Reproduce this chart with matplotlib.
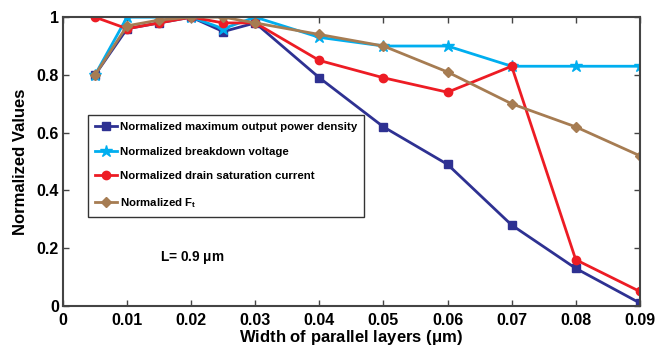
import matplotlib
matplotlib.use('Agg')
import matplotlib.pyplot as plt

plt.rcParams['font.family'] = ['Liberation Sans', 'DejaVu Sans']
plt.rcParams['mathtext.fontset'] = 'custom'
plt.rcParams['mathtext.rm'] = 'Liberation Sans:bold'
plt.rcParams['mathtext.it'] = 'Liberation Sans:bold'
plt.rcParams['mathtext.bf'] = 'Liberation Sans:bold'

# data
width = [0.005, 0.01, 0.015, 0.02, 0.025, 0.03, 0.04, 0.05, 0.06, 0.07, 0.08, 0.09]
power_density = [0.80, 0.96, 0.98, 1.00, 0.95, 0.98, 0.79, 0.62, 0.49, 0.28, 0.13, 0.01]
breakdown = [0.80, 1.00, 1.00, 1.00, 0.96, 1.00, 0.93, 0.90, 0.90, 0.83, 0.83, 0.83]
drain_current = [1.00, 0.96, 0.98, 1.00, 0.98, 0.98, 0.85, 0.79, 0.74, 0.83, 0.16, 0.05]
ft = [0.80, 0.97, 0.99, 1.00, 1.00, 0.98, 0.94, 0.90, 0.81, 0.70, 0.62, 0.52]

xticks = [0, 0.01, 0.02, 0.03, 0.04, 0.05, 0.06, 0.07, 0.08, 0.09]
xticklabels = ['0', '0.01', '0.02', '0.03', '0.04', '0.05', '0.06', '0.07', '0.08', '0.09']
yticks = [0, 0.2, 0.4, 0.6, 0.8, 1]
yticklabels = ['0', '0.2', '0.4', '0.6', '0.8', '1']

fig = plt.figure(figsize=(6.7, 3.5), dpi=100)
ax = fig.add_axes([0.094, 0.126, 0.861, 0.825])

ax.plot(width, power_density, '-s', color='#2E3192', lw=2, ms=6,
        label='Normalized maximum output power density')
ax.plot(width, breakdown, '-*', color='#00AEEF', lw=2, ms=9,
        label='Normalized breakdown voltage')
ax.plot(width, drain_current, '-o', color='#ED1C24', lw=2, ms=6,
        label='Normalized drain saturation current')
ax.plot(width, ft, '-D', color='#A67C52', lw=2, ms=5,
        label=r'Normalized F$_\mathregular{t}$')

ax.set_xlim(0, 0.09)
ax.set_ylim(0, 1)
ax.set_xticks(xticks)
ax.set_xticklabels(xticklabels, fontsize=11.5, fontweight='bold')
ax.set_yticks(yticks)
ax.set_yticklabels(yticklabels, fontsize=11.5, fontweight='bold')
ax.tick_params(axis='x', pad=5)
ax.tick_params(axis='y', pad=3)
ax.tick_params(direction='in', top=True, right=True, length=4, width=1,
               color='#444444')
for s in ax.spines.values():
    s.set_linewidth(1.5)
    s.set_color('#444444')

ax.set_xlabel(r'Width of parallel layers ($\mu$m)', fontsize=12, fontweight='bold', labelpad=0)
ax.set_ylabel('Normalized Values', fontsize=12, fontweight='bold', labelpad=6)

ax.text(0.0151, 0.166, r'L= 0.9 $\mu$m', fontsize=9.8, fontweight='bold', va='center')

leg = ax.legend(loc='upper left', bbox_to_anchor=(0.043, 0.661),
                prop={'weight': 'bold', 'size': 8.2}, fancybox=False,
                edgecolor='black', handlelength=2.0, handletextpad=0.2,
                borderpad=0.6, labelspacing=1.3, borderaxespad=0)
leg.get_frame().set_linewidth(1)

fig.savefig('out.png', dpi=100)
